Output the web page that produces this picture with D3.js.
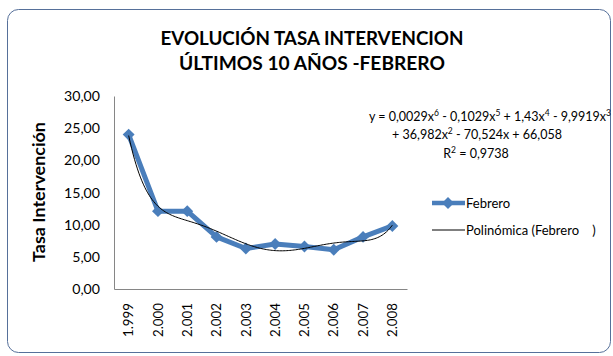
<!DOCTYPE html>
<html>
<head>
<meta charset="utf-8">
<script src="https://cdn.jsdelivr.net/npm/d3@7"></script>
<style>
  html, body { margin: 0; padding: 0; background: #ffffff; }
  svg { display: block; }
</style>
</head>
<body>
<script>
// Intervention rate, February of each year
const years = ["1.999", "2.000", "2.001", "2.002", "2.003", "2.004", "2.005", "2.006", "2.007", "2.008"];
const febrero = [24.0, 12.1, 12.1, 8.1, 6.3, 7.0, 6.6, 6.1, 8.1, 9.8];
const yTicks = [0, 5, 10, 15, 20, 25, 30];
const titleLines = ["EVOLUCIÓN TASA INTERVENCION", "ÚLTIMOS 10 AÑOS -FEBRERO"];
const yAxisTitle = "Tasa Intervención";
const seriesName = "Febrero";
const trendName = "Polinómica (Febrero    )";
const trendDegree = 6;
// Trendline label: [text, superscript] pieces per line
const equationLines = [
  [["y = 0,0029x", "6"], [" - 0,1029x", "5"], [" + 1,43x", "4"], [" - 9,9919x", "3"]],
  [["+ 36,982x", "2"], [" - 70,524x + 66,058", ""]],
  [["R", "2"], [" = 0,9738", ""]]
];

const W = 613, H = 356;
const FONT = "Lato, 'Open Sans', sans-serif";
const BLUE = "#4a7ebb";
const AXIS = "#868686";

const svg = d3.select("body").append("svg").attr("width", W).attr("height", H);
const defs = svg.append("defs");
defs.append("filter").attr("id", "glow").attr("x", "-5%").attr("y", "-200%").attr("width", "110%").attr("height", "500%")
  .append("feGaussianBlur").attr("stdDeviation", 2.5);

// scale a text's font size so that it spans the given width
function fitWidth(sel, width) {
  sel.each(function () {
    const fs = parseFloat(d3.select(this).attr("font-size") || getComputedStyle(this).fontSize);
    const w = this.getComputedTextLength();
    if (w > 0) d3.select(this).attr("font-size", (fs * width / w).toFixed(2));
  });
}

// chart frame with a soft shadow along its top edge
svg.append("path")
  .attr("d", "M12,7 L606,7")
  .attr("stroke", "#9fb0cc").attr("stroke-width", 5).attr("fill", "none")
  .attr("filter", "url(#glow)");
svg.append("rect")
  .attr("x", 7.5).attr("y", 9.5).attr("width", 603).attr("height", 343).attr("rx", 11)
  .attr("fill", "#ffffff").attr("stroke", "#56709a").attr("stroke-width", 1);

// title, centred over the chart
const titleWidths = [303, 266];
svg.append("g").selectAll("text").data(titleLines).join("text")
  .attr("x", 312).attr("y", (d, i) => 45 + i * 25)
  .attr("text-anchor", "middle")
  .attr("font-family", FONT).attr("font-weight", 700).attr("font-size", 18)
  .attr("fill", "#000")
  .text(d => d)
  .each(function (d, i) { fitWidth(d3.select(this), titleWidths[i]); });

// scales
const plot = { left: 114, right: 407, top: 96, bottom: 289 };
const x = d3.scaleBand().domain(years).range([plot.left, plot.right]);
const y = d3.scaleLinear().domain([0, 30]).range([plot.bottom, plot.top]);
const cx = d => x(d) + x.bandwidth() / 2;

// axes
const yAxis = svg.append("g").attr("transform", `translate(${plot.left},0)`)
  .call(d3.axisLeft(y).tickValues(yTicks).tickSize(0).tickPadding(14)
    .tickFormat(d => d3.format(".2f")(d).replace(".", ",")));
yAxis.select(".domain").attr("stroke", AXIS);
yAxis.selectAll("text").attr("font-family", FONT).attr("font-size", 13).attr("fill", "#000");
{
  const ref = yAxis.selectAll(".tick text").filter(d => d === 30).node();
  const fs = 13 * 36 / ref.getComputedTextLength();
  yAxis.selectAll("text").attr("font-size", fs.toFixed(2));
}

const xAxis = svg.append("g").attr("transform", `translate(0,${plot.bottom})`)
  .call(d3.axisBottom(x).tickSize(0).tickPadding(0));
xAxis.select(".domain").attr("stroke", AXIS);
xAxis.selectAll("text")
  .attr("font-family", FONT).attr("font-size", 13).attr("fill", "#000")
  .attr("text-anchor", "end")
  .attr("transform", "rotate(-90)")
  .attr("x", -14).attr("y", 0).attr("dy", "0.35em");
{
  const ref = xAxis.select(".tick text").node();
  const fs = 13 * 34 / ref.getComputedTextLength();
  xAxis.selectAll("text").attr("font-size", fs.toFixed(2));
}

// y-axis title
svg.append("text")
  .attr("transform", "translate(45,192) rotate(-90)")
  .attr("text-anchor", "middle")
  .attr("font-family", FONT).attr("font-weight", 700).attr("font-size", 15)
  .text(yAxisTitle)
  .call(fitWidth, 140);

// least-squares polynomial trendline of the series
function polyFit(xs, ys, deg) {
  const n = deg + 1;
  const A = Array.from({ length: n }, () => new Array(n + 1).fill(0));
  xs.forEach((xv, k) => {
    const p = [];
    for (let j = 0; j < n; j++) p.push(Math.pow(xv, j));
    for (let r = 0; r < n; r++) {
      for (let c = 0; c < n; c++) A[r][c] += p[r] * p[c];
      A[r][n] += p[r] * ys[k];
    }
  });
  for (let col = 0; col < n; col++) {
    let piv = col;
    for (let r = col + 1; r < n; r++) if (Math.abs(A[r][col]) > Math.abs(A[piv][col])) piv = r;
    [A[col], A[piv]] = [A[piv], A[col]];
    for (let r = 0; r < n; r++) {
      if (r === col) continue;
      const f = A[r][col] / A[col][col];
      for (let c = col; c <= n; c++) A[r][c] -= f * A[col][c];
    }
  }
  return A.map((row, i) => row[n] / row[i]);
}
const tOf = i => (i - 5.5) / 4.5; // centred index for a well-conditioned fit
const coef = polyFit(febrero.map((_, i) => tOf(i + 1)), febrero, trendDegree);
const polyAt = xv => coef.reduce((s, c, j) => s + c * Math.pow(tOf(xv), j), 0);
const xIdx = d3.scaleLinear().domain([1, years.length]).range([cx(years[0]), cx(years[years.length - 1])]);
const trendPts = d3.range(1, years.length + 0.0001, 0.05).map(v => [xIdx(v), y(polyAt(v))]);

// series line and markers
const pts = years.map((d, i) => [cx(d), y(febrero[i])]);
svg.append("path")
  .attr("d", d3.line()(pts))
  .attr("fill", "none").attr("stroke", BLUE).attr("stroke-width", 5).attr("stroke-linejoin", "round");
const diamond = d3.symbol().type(d3.symbolDiamond2).size(90);
svg.append("g").selectAll("path").data(pts).join("path")
  .attr("transform", d => `translate(${d[0]},${d[1]})`)
  .attr("d", diamond).attr("fill", BLUE);

svg.append("path")
  .attr("d", d3.line()(trendPts))
  .attr("fill", "none").attr("stroke", "#000").attr("stroke-width", 1);

// trendline equation
const eq = svg.append("g").attr("font-family", FONT).attr("font-size", 12.5).attr("fill", "#000");
const eqPos = [[490, 121], [477, 139], [476, 158]];
equationLines.forEach((parts, li) => {
  const t = eq.append("text").attr("x", eqPos[li][0]).attr("y", eqPos[li][1]).attr("text-anchor", "middle");
  parts.forEach(([base, sup]) => {
    t.append("tspan").attr("dy", 0).text(base);
    if (sup) {
      t.append("tspan").attr("font-size", 8.5).attr("dy", -5).text(sup);
      t.append("tspan").attr("dy", 5).text("\u200B");
    }
  });
});

// legend
const lg = svg.append("g").attr("font-family", FONT).attr("font-size", 13);
lg.append("line").attr("x1", 432).attr("x2", 465).attr("y1", 203).attr("y2", 203)
  .attr("stroke", BLUE).attr("stroke-width", 4.5);
lg.append("path").attr("transform", "translate(448,203)").attr("d", diamond).attr("fill", BLUE);
lg.append("text").attr("x", 466).attr("y", 203).attr("dy", "0.35em").text(seriesName);
lg.append("line").attr("x1", 432).attr("x2", 465).attr("y1", 230).attr("y2", 230)
  .attr("stroke", "#000").attr("stroke-width", 1);
lg.append("text").attr("x", 466).attr("y", 230).attr("dy", "0.35em")
  .style("white-space", "pre").text(trendName);
</script>
</body>
</html>
